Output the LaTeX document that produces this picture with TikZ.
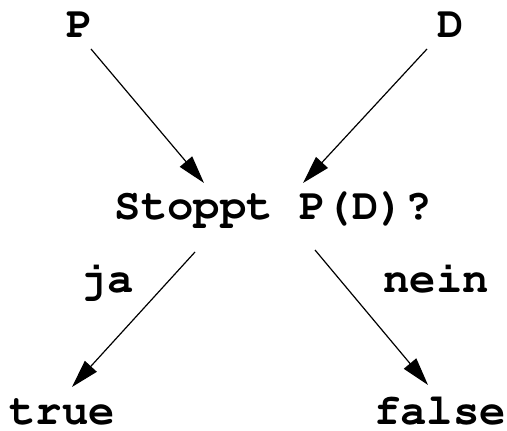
\documentclass[tikz,border=0pt]{standalone}
\usepackage[T1]{fontenc}
\usepackage{courier}
\usetikzlibrary{arrows.meta}
\begin{document}
\begin{tikzpicture}[x=0.5pt,y=-0.5pt,
  lbl/.style={font=\fontencoding{T1}\fontfamily{pcr}\bfseries\fontsize{22}{25}\selectfont, inner sep=0pt, anchor=base},
  arr/.style={-{Triangle[length=14pt,width=8pt]}, line width=0.6pt}]
\useasboundingbox[fill=white] (0,0) rectangle (507,431);
\node[lbl] (P) at (80,38) {P};
\node[lbl] (D) at (451,38) {D};
\node[lbl] (Q) at (273,220) {Stoppt P(D)?};
\node[lbl] (ja) at (107,293) {ja};
\node[lbl] (nein) at (436,293) {nein};
\node[lbl] (true) at (62,424) {true};
\node[lbl] (false) at (440,424) {false};
\coordinate (p0) at (91,49);
\coordinate (p1) at (204,183);
\coordinate (d0) at (427,49);
\coordinate (d1) at (303,183);
\coordinate (j0) at (195,252);
\coordinate (j1) at (72,387);
\coordinate (n0) at (315,250);
\coordinate (n1) at (428,385);
\draw[arr] (p0) -- (p1);
\draw[arr] (d0) -- (d1);
\draw[arr] (j0) -- (j1);
\draw[arr] (n0) -- (n1);
\end{tikzpicture}
\end{document}
